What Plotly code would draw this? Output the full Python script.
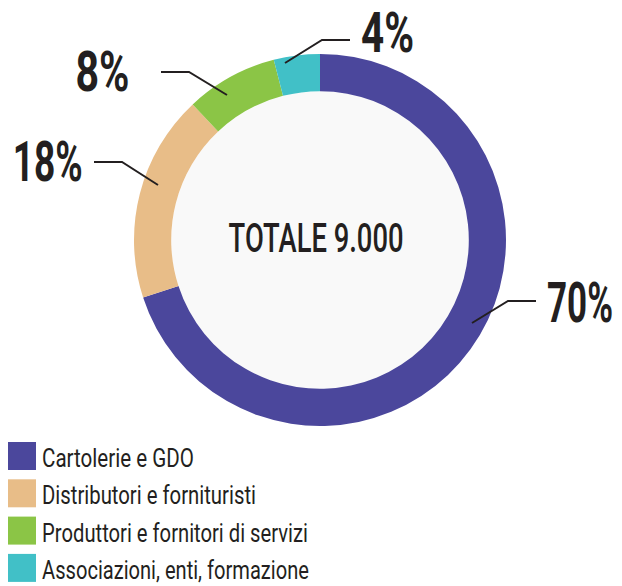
import json
import plotly.graph_objects as go

# ---- data ----
categories = ["Cartolerie e GDO", "Distributori e fornituristi",
              "Produttori e fornitori di servizi", "Associazioni, enti, formazione"]
shares = [70, 18, 8, 4]
pct_labels = ["70%", "18%", "8%", "4%"]
center_label = "TOTALE 9.000"
colors = ["#4B479C", "#E8BD88", "#8BC546", "#41C0C7"]

W, H = 622, 586
FONT = "Roboto, Liberation Sans, sans-serif"
INK = "#231F20"


def px(x):
    return x / W


def py(y):
    return 1 - y / H


# pie geometry (pixels)
CX, CY, R = 320, 240, 186
HOLE = 0.80

fig = go.Figure()
fig.add_trace(go.Pie(
    labels=categories, values=shares, sort=False, direction="clockwise", rotation=0,
    hole=HOLE, marker=dict(colors=colors, line=dict(width=0)),
    textinfo="none", hoverinfo="label+percent", showlegend=False,
    domain=dict(x=[px(CX - R), px(CX + R)], y=[py(CY + R), py(CY - R)]),
))

shapes = []
annotations = []
fit = []  # (anchor, target width) per annotation, used to condense the type

# light inner disc
ri = R * HOLE
shapes.append(dict(type="circle", xref="paper", yref="paper", layer="below",
                   x0=px(CX - ri), x1=px(CX + ri), y0=py(CY + ri), y1=py(CY - ri),
                   fillcolor="#F9F9F9", line=dict(width=0)))

# leader lines: start on ring, elbow, horizontal end; then the big label
label_layout = [  # (start, elbow, end x, text x, text centre y, anchor, text width)
    ((472, 323), (508, 301), 536, 546, 303, "left", 66),
    ((158, 185), (122, 162), 94, 84, 162, "right", 70),
    ((227, 95), (189, 72), 161, 131, 72, "right", 54),
    ((285, 63), (322, 40), 350, 360, 33, "left", 53),
]
for lab, (s, e, endx, tx, ty, anc, tw) in zip(pct_labels, label_layout):
    shapes.append(dict(type="path", xref="paper", yref="paper",
                       path=f"M {px(s[0])} {py(s[1])} L {px(e[0])} {py(e[1])} L {px(endx)} {py(e[1])}",
                       line=dict(color=INK, width=2)))
    annotations.append(dict(xref="paper", yref="paper", x=px(tx), y=py(ty),
                            xanchor=anc, yanchor="middle", showarrow=False, text=lab,
                            borderpad=0,
                            font=dict(family=FONT, size=56, color=INK, weight="bold")))
    fit.append([anc, tw])

# center text
annotations.append(dict(xref="paper", yref="paper", x=px(316), y=py(238), xanchor="center",
                        yanchor="middle", showarrow=False, text=center_label, borderpad=0,
                        font=dict(family=FONT, size=41, color=INK, weight=500)))
fit.append(["center", 175])

# legend
legend_widths = [152, 214, 266, 267]
for i, (cat, col, lw) in enumerate(zip(categories, colors, legend_widths)):
    top = 442 + i * 37.3
    shapes.append(dict(type="rect", xref="paper", yref="paper", x0=px(8), x1=px(36),
                       y0=py(top + 28), y1=py(top), fillcolor=col, line=dict(width=0)))
    annotations.append(dict(xref="paper", yref="paper", x=px(41), y=py(top + 16),
                            xanchor="left", yanchor="middle", showarrow=False, text=cat,
                            borderpad=0,
                            font=dict(family=FONT, size=26, color=INK)))
    fit.append(["left", lw])

fig.update_layout(width=W, height=H, margin=dict(l=0, r=0, t=0, b=0),
                  paper_bgcolor="white", plot_bgcolor="white",
                  shapes=shapes, annotations=annotations, showlegend=False)

post = """
document.body.style.margin = '0';
var fit = %s;
var gd = document.getElementById('{plot_id}');
gd.querySelectorAll('g.annotation').forEach(function(g){
  var i = parseInt(g.getAttribute('data-index'));
  var f = fit[i]; if (!f) return;
  var t = g.querySelector('text.annotation-text'); if (!t) return;
  var bb = t.getBBox();
  var s = f[1] / bb.width; if (!(s > 0)) return;
  var ax = f[0] === 'left' ? bb.x : (f[0] === 'right' ? bb.x + bb.width : bb.x + bb.width / 2);
  t.setAttribute('transform', 'translate(' + ax + ',0) scale(' + s + ',1) translate(' + (-ax) + ',0)');
});
""" % json.dumps(fit)

fig.write_html("out.html", post_script=post, config={"displayModeBar": False})
